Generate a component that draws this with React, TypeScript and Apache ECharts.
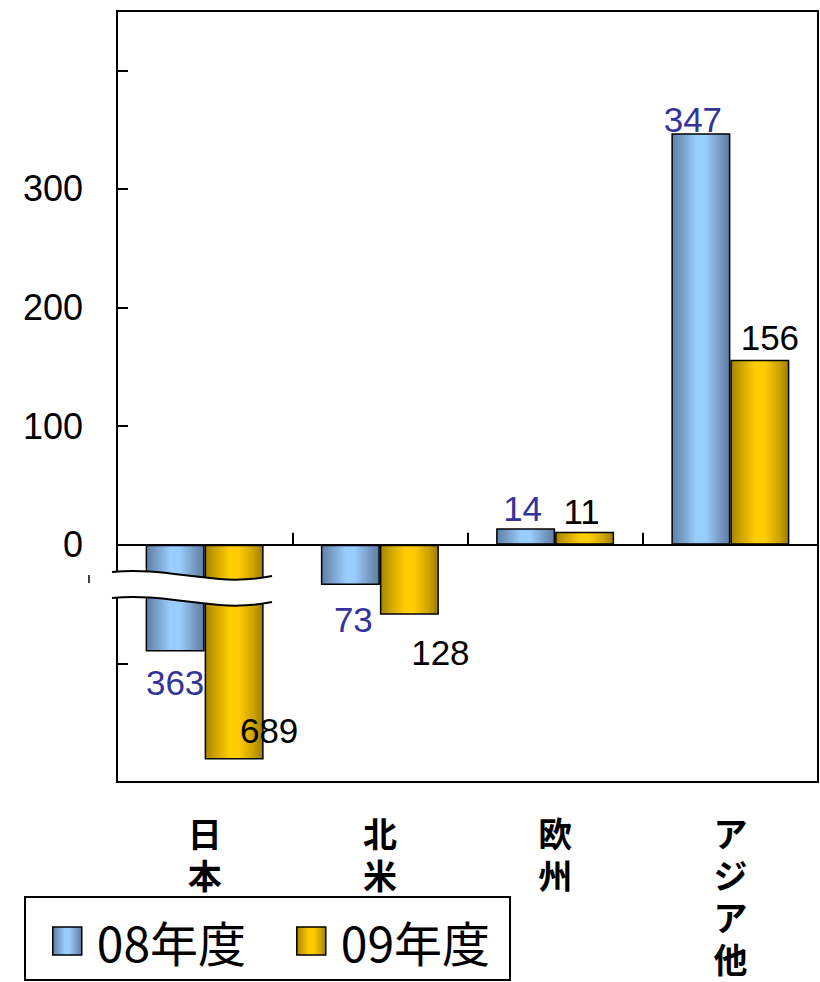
import React, { useEffect, useRef } from "react";
import * as echarts from "echarts";

// ---- data ----
const categories = ["日本", "北米", "欧州", "アジア他"];
const seriesNames = ["08年度", "09年度"];
// reported values (shown as labels)
const values08 = [-363, -73, 14, 347];
const values09 = [-689, -128, 11, 156];
// bar lengths as drawn on the (broken) axis
const drawn08 = [-90, -34, 14, 347];
const drawn09 = [-181, -59, 11, 156];
const yLabelValues = [0, 100, 200, 300];

// ---- label placement (style, not data) ----
const labelPos08: any[] = [
  { position: "bottom", distance: 13, offset: [0, 0] },
  { position: "bottom", distance: 17, offset: [3, 0] },
  { position: "top", distance: 2, offset: [-3, 0] },
  { position: "top", distance: 0, offset: [-8, 4] },
];
const labelPos09: any[] = [
  { position: "bottom", distance: 0, offset: [35, -46] },
  { position: "bottom", distance: 20, offset: [31, 0] },
  { position: "top", distance: 3, offset: [-3, 0] },
  { position: "top", distance: 5, offset: [10, 0] },
];

const blueGrad = () =>
  new echarts.graphic.LinearGradient(0, 0, 1, 0, [
    { offset: 0, color: "#5e80a8" },
    { offset: 0.15, color: "#7499c2" },
    { offset: 0.42, color: "#9acdff" },
    { offset: 0.58, color: "#9acdff" },
    { offset: 0.85, color: "#7497bf" },
    { offset: 1, color: "#5c7ca3" },
  ]);
const goldGrad = () =>
  new echarts.graphic.LinearGradient(0, 0, 1, 0, [
    { offset: 0, color: "#a58300" },
    { offset: 0.15, color: "#c9a000" },
    { offset: 0.42, color: "#ffcc00" },
    { offset: 0.58, color: "#ffcc00" },
    { offset: 0.85, color: "#c9a000" },
    { offset: 1, color: "#9c7c00" },
  ]);

let registered = false;
function registerShapes() {
  if (registered) return;
  registered = true;
  echarts.graphic.registerShape(
    "breakband",
    echarts.graphic.extendPath(
      "M112 572 C170 566 215 588 272 576 L272 602 C215 614 170 592 112 598 Z",
      {}
    ) as any
  );
}

export default function App() {
  const ref = useRef<HTMLDivElement>(null);

  useEffect(() => {
    document.body.style.margin = "0";
    registerShapes();
    const chart = echarts.init(ref.current!, null, { renderer: "svg" });
    const numFont = "'Liberation Sans', Arial, sans-serif";
    const cjkFont = "'Noto Sans CJK JP', sans-serif";

    const mkData = (drawn: number[], vals: number[], pos: any[], color: string) =>
      drawn.map((d, i) => ({
        value: d,
        label: {
          show: true,
          position: pos[i].position,
          distance: pos[i].distance,
          offset: pos[i].offset,
          formatter: String(Math.abs(vals[i])),
          color,
          fontSize: 35,
          fontFamily: numFont,
        },
      }));

    chart.setOption({
      animation: false,
      backgroundColor: "#ffffff",
      grid: {
        left: 117,
        right: 2,
        top: 11,
        bottom: 200,
        containLabel: false,
        outerBoundsMode: "none",
        show: true,
        borderColor: "#000",
        borderWidth: 2,
        backgroundColor: "transparent",
      },
      legend: {
        data: seriesNames,
        left: 52,
        top: 917,
        padding: 0,
        icon: "rect",
        itemWidth: 29,
        itemHeight: 28,
        itemGap: 50,
        itemStyle: { borderColor: "#000", borderWidth: 1.5 },
        textStyle: {
          fontSize: 48,
          fontFamily: cjkFont,
          color: "#000",
          padding: [0, 0, 0, 10],
        },
      },
      xAxis: {
        type: "category",
        data: categories,
        axisLine: { show: true, onZero: true, lineStyle: { color: "#000", width: 2 } },
        axisTick: {
          show: true,
          inside: true,
          length: 12,
          interval: 0,
          lineStyle: { color: "#000", width: 2 },
        },
        axisLabel: {
          margin: 29,
          interval: 0,
          fontSize: 34,
          lineHeight: 42,
          fontWeight: "bold",
          color: "#000",
          fontFamily: cjkFont,
          formatter: (v: string) => v.split("").join("\n"),
        },
        splitLine: { show: false },
      },
      yAxis: {
        type: "value",
        min: -200,
        max: 450,
        interval: 100,
        axisLine: { show: true, lineStyle: { color: "#000", width: 2 } },
        axisTick: {
          show: true,
          inside: true,
          length: 11,
          lineStyle: { color: "#000", width: 2 },
        },
        axisLabel: {
          margin: 34,
          fontSize: 36,
          color: "#000",
          fontFamily: numFont,
          formatter: (v: number) => (yLabelValues.indexOf(v) >= 0 ? String(v) : ""),
        },
        splitLine: { show: false },
      },
      series: [
        {
          name: seriesNames[0],
          type: "bar",
          barWidth: 59,
          barGap: "0%",
          itemStyle: { color: blueGrad(), borderColor: "#000", borderWidth: 1.5 },
          data: mkData(drawn08, values08, labelPos08, "#333399"),
        },
        {
          name: seriesNames[1],
          type: "bar",
          barWidth: 59,
          barGap: "0%",
          itemStyle: { color: goldGrad(), borderColor: "#000", borderWidth: 1.5 },
          data: mkData(drawn09, values09, labelPos09, "#000000"),
        },
      ],
      graphic: [
        {
          type: "breakband",
          z: 100,
          shape: {},
          style: { fill: "#ffffff", stroke: null },
        },
        {
          type: "bezierCurve",
          z: 101,
          shape: { x1: 112, y1: 572, cpx1: 170, cpy1: 566, cpx2: 215, cpy2: 588, x2: 272, y2: 576 },
          style: { stroke: "#000", lineWidth: 2, fill: null },
        },
        {
          type: "bezierCurve",
          z: 101,
          shape: { x1: 112, y1: 598, cpx1: 170, cpy1: 592, cpx2: 215, cpy2: 614, x2: 272, y2: 602 },
          style: { stroke: "#000", lineWidth: 2, fill: null },
        },
        {
          type: "line",
          z: 101,
          shape: { x1: 89, y1: 575, x2: 89, y2: 583 },
          style: { stroke: "#000", lineWidth: 1.5 },
        },
        {
          type: "rect",
          z: 50,
          shape: { x: 25, y: 897, width: 485, height: 83 },
          style: { fill: null, stroke: "#000", lineWidth: 2 },
        },
      ],
    });

    return () => chart.dispose();
  }, []);

  return <div ref={ref} style={{ width: 820, height: 982 }} />;
}
